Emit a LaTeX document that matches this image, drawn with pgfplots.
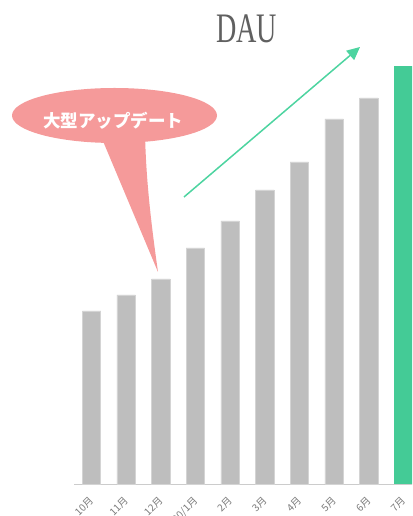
\documentclass[border=0pt]{standalone}
\usepackage{fontspec}
\usepackage{pgfplots}
\pgfplotsset{compat=1.18}
\usetikzlibrary{arrows.meta}
\setmainfont{Liberation Serif}
\newfontfamily\cjk{Noto Sans CJK JP}
\definecolor{barg}{HTML}{BEBEBE}
\definecolor{barb}{HTML}{D4D4D4}
\definecolor{grn}{HTML}{44CB96}
\definecolor{arr}{HTML}{4DD4A0}
\definecolor{pink}{HTML}{F59A9A}
\definecolor{axl}{HTML}{CCCCCC}
\definecolor{lab}{HTML}{7A7A7A}
\definecolor{ttl}{HTML}{606060}
\begin{document}
\begin{tikzpicture}[x=1pt,y=1pt]
\useasboundingbox (0,0) rectangle (412,516);
\clip (0,0) rectangle (412,516);
\begin{axis}[
  at={(74pt,32pt)}, anchor=south west,
  scale only axis, width=346.8pt, height=450pt,
  xmin=-0.505, xmax=9.5, ymin=0, ymax=450,
  axis x line=bottom, axis y line=none,
  x axis line style={draw=axl, line width=1pt, -},
  xtick={0,...,9},
  xticklabels={10月,11月,12月,20/1月,2月,3月,4月,5月,6月,7月},
  major tick length=0pt,
  x tick label style={xshift=-3pt, yshift=-7pt, rotate=45, anchor=north east, font=\cjk\fontsize{10}{10}\selectfont, text=lab},
  clip=false,
]
\addplot[ybar, bar shift=0pt, bar width=18.5pt, fill=barg, draw=barb, line width=0.6pt]
  coordinates {(0,173) (1,189) (2,205) (3,236) (4,263) (5,294) (6,322) (7,365) (8,386)};
\addplot[ybar, bar shift=0pt, bar width=18.5pt, fill=grn, draw=none]
  coordinates {(9,418)};
\end{axis}
% title
\node[text=ttl, font=\fontsize{42}{42}\selectfont] at (246.5,487) {\scalebox{0.67}[1]{DAU}};
% arrow
\draw[arr, line width=1.5pt, -{Triangle[length=13pt,width=12pt]}] (184,319) -- (360,469);
% bubble
\fill[pink] (100,382) -- (158,244) .. controls (150,300) and (146,340) .. (145,382) -- cycle;
\fill[pink] (114.5,400.5) ellipse [x radius=102.5, y radius=27.5];
\node[text=white, font=\cjk\bfseries\fontsize{17.5}{17.5}\selectfont] at (113,395) {大型アップデート};
\end{tikzpicture}
\end{document}
